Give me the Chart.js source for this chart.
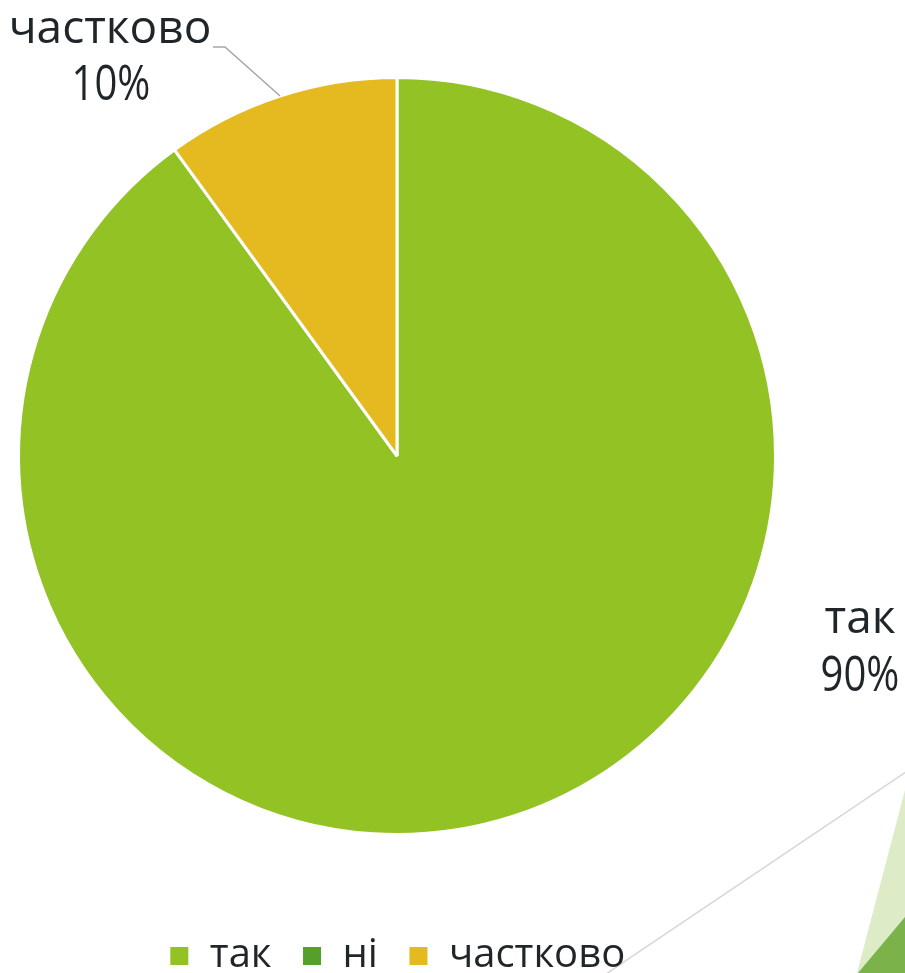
<!DOCTYPE html>
<html lang="uk">
<head>
<meta charset="UTF-8" />
<title>Chart</title>
<script src="https://cdn.jsdelivr.net/npm/chart.js"></script>
<style>
  html, body { margin: 0; padding: 0; background: #fff; }
  #wrap { position: relative; width: 905px; height: 973px; }
</style>
</head>
<body>
<div id="wrap"><canvas id="myChart"></canvas></div>
<script>
  // data
  const labels = ["так", "ні", "частково"];
  const values = [90, 0, 10];
  const colors = ["#93C225", "#55A02A", "#E5B920"];

  const FONT = "'Open Sans', 'Noto Sans', sans-serif";
  const TEXT = "#1F2529";

  // slide decoration (triangles + thin line in the corner)
  const deco = {
    id: "deco",
    beforeDraw(chart) {
      const ctx = chart.ctx;
      ctx.save();
      ctx.fillStyle = "#DDEBC6";
      ctx.beginPath();
      ctx.moveTo(905, 790); ctx.lineTo(857, 973); ctx.lineTo(905, 973);
      ctx.closePath(); ctx.fill();
      ctx.fillStyle = "#7BB34A";
      ctx.beginPath();
      ctx.moveTo(905, 917); ctx.lineTo(858, 973); ctx.lineTo(905, 973);
      ctx.closePath(); ctx.fill();
      ctx.strokeStyle = "#D6D6D6";
      ctx.lineWidth = 1.5;
      ctx.beginPath();
      ctx.moveTo(906, 772); ctx.lineTo(606, 974);
      ctx.stroke();
      ctx.restore();
    }
  };

  // narrow percentage text
  function pctText(ctx, txt, x, y) {
    ctx.save();
    ctx.translate(x, y);
    ctx.scale(0.8, 1);
    ctx.font = "50px " + FONT;
    ctx.fillText(txt, 0, 0);
    ctx.restore();
  }

  // data labels with leader line
  const sliceLabels = {
    id: "sliceLabels",
    afterDatasetsDraw(chart) {
      const ctx = chart.ctx;
      const meta = chart.getDatasetMeta(0);
      const a0 = meta.data[0];
      const cx = a0.x, cy = a0.y, r = a0.outerRadius;
      ctx.save();
      ctx.fillStyle = TEXT;
      ctx.textAlign = "center";
      ctx.textBaseline = "alphabetic";

      // частково
      const arc = meta.data[2];
      const mid = (arc.startAngle + arc.endAngle) / 2;
      ctx.strokeStyle = "#A6A6A6";
      ctx.lineWidth = 1.5;
      ctx.beginPath();
      ctx.moveTo(cx + r * Math.cos(mid), cy + r * Math.sin(mid));
      ctx.lineTo(cx - 172, cy - 409);
      ctx.lineTo(cx - 184, cy - 409);
      ctx.stroke();
      ctx.font = "46px " + FONT;
      ctx.fillText(labels[2], cx - 287, cy - 413);
      pctText(ctx, values[2] + "%", cx - 286, cy - 356);

      // так
      ctx.font = "46px " + FONT;
      ctx.fillText(labels[0], cx + 463, cy + 177);
      pctText(ctx, values[0] + "%", cx + 463, cy + 235);
      ctx.restore();
    }
  };

  new Chart(document.getElementById("myChart"), {
    type: "pie",
    data: {
      labels: labels,
      datasets: [{
        data: values,
        backgroundColor: colors,
        borderColor: "#ffffff",
        borderWidth: 3,
        hoverOffset: 0
      }]
    },
    options: {
      responsive: true,
      maintainAspectRatio: false,
      animation: false,
      layout: { padding: { top: 6, left: 17, right: 128, bottom: -13 } },
      plugins: {
        tooltip: { enabled: false },
        legend: {
          position: "bottom",
          labels: {
            boxWidth: 21,
            boxHeight: 21,
            padding: 30,
            color: TEXT,
            font: { size: 40, family: FONT }
          }
        }
      }
    },
    plugins: [deco, sliceLabels]
  });
</script>
</body>
</html>
